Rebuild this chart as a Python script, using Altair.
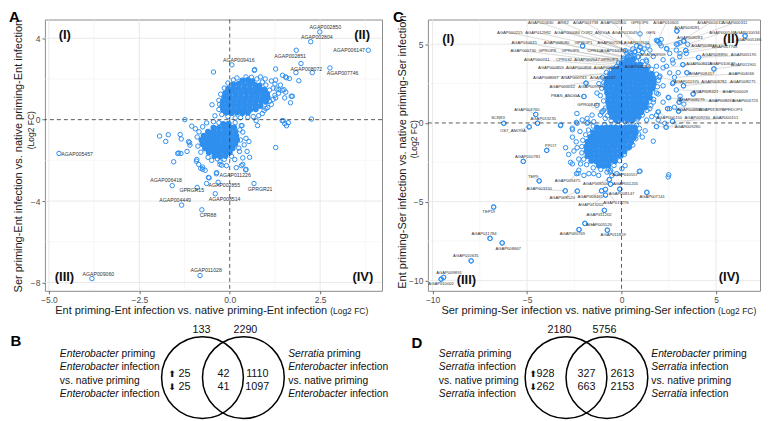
import altair as alt
import pandas as pd

FONT = "Liberation Sans"
BLUE = "#2F8FEF"
AXGRAY = "#4d4d4d"

# ---------------- layout (plot-area sizes) ----------------
AW, AH = 338, 272
CW, CH = 333, 272
GAP = 46
VH = 129

# ---------------- Panel A : Enterobacter infection ----------------
A_XDOM = [-5.11, 4.21]
A_YDOM = [-8.41, 4.92]
A_xticks = [-5, -2.5, 0, 2.5]
A_yticks = [-8, -4, 0, 4]
A_grid_major_x = [-5, -2.5, 2.5]
A_grid_minor_x = [-3.75, -1.25, 1.25, 3.75]
A_grid_major_y = [-8, -4, 4]
A_grid_minor_y = [-6, -2, 2]

A_core_up = [(0.35,1.92),(0.5,1.95),(0.62,1.88),
 (0.1,1.72),(0.25,1.76),(0.4,1.7),(0.55,1.74),(0.7,1.7),(0.82,1.66),
 (-0.04,1.52),(0.1,1.5),(0.25,1.54),(0.4,1.5),(0.55,1.52),(0.7,1.5),(0.85,1.48),(0.96,1.46),
 (-0.12,1.3),(0.02,1.33),(0.17,1.3),(0.32,1.31),(0.47,1.32),(0.62,1.29),(0.77,1.3),(0.92,1.3),(1.03,1.27),
 (-0.15,1.1),(0.0,1.1),(0.15,1.12),(0.3,1.1),(0.45,1.09),(0.6,1.12),(0.75,1.1),(0.9,1.1),(1.05,1.08),
 (-0.18,0.9),(-0.03,0.9),(0.12,0.92),(0.27,0.9),(0.42,0.9),(0.57,0.91),(0.72,0.9),(0.87,0.92),(1.0,0.88),
 (-0.2,0.7),(-0.05,0.7),(0.1,0.72),(0.25,0.7),(0.4,0.71),(0.55,0.7),(0.7,0.72),(0.85,0.68),
 (-0.18,0.5),(-0.03,0.52),(0.12,0.5),(0.27,0.5),(0.42,0.51),(0.57,0.5),(0.72,0.52),
 (-0.1,0.35),(0.05,0.33),(0.2,0.35),(0.35,0.33),(0.5,0.35)]

A_core_low = [(-0.18,-0.22),(-0.03,-0.2),
 (-0.45,-0.4),(-0.3,-0.41),(-0.15,-0.42),(0.0,-0.4),(0.12,-0.39),
 (-0.6,-0.6),(-0.45,-0.6),(-0.3,-0.62),(-0.15,-0.6),(0.0,-0.6),(0.15,-0.61),
 (-0.72,-0.8),(-0.57,-0.8),(-0.42,-0.81),(-0.27,-0.8),(-0.12,-0.8),(0.03,-0.79),(0.18,-0.8),
 (-0.78,-1.0),(-0.63,-1.0),(-0.48,-1.02),(-0.33,-1.0),(-0.18,-1.0),(-0.03,-1.01),(0.12,-1.0),(0.2,-1.0),
 (-0.75,-1.2),(-0.6,-1.2),(-0.45,-1.21),(-0.3,-1.2),(-0.15,-1.2),(0.0,-1.2),(0.15,-1.19),
 (-0.68,-1.4),(-0.53,-1.4),(-0.38,-1.41),(-0.23,-1.4),(-0.08,-1.4),(0.08,-1.4),
 (-0.58,-1.6),(-0.43,-1.6),(-0.28,-1.61),(-0.13,-1.6),(0.0,-1.6),
 (-0.42,-1.78),(-0.27,-1.8),(-0.12,-1.78)]

A_scatter = [(2.49,4.31),(2.24,3.83),(3.83,3.41),(1.84,3.41),(0.06,2.69),(1.97,2.76),(1.83,2.31),
 (2.28,2.31),(2.77,2.54),(-4.72,-1.66),(-0.37,-2.66),(-1.59,-3.24),(-0.64,-3.14),(-0.90,-3.33),
 (0.67,-3.14),(-0.40,-3.64),(-1.33,-4.20),(-0.77,-4.43),(-3.81,-7.81),(-0.82,-7.66),
 (-0.45,2.34),(0.69,2.46),(1.27,2.49),(1.46,2.18),(1.57,2.06),(1.65,2.02),(1.91,1.91),(1.70,1.15),
 (1.68,0.83),(2.26,0.03),(1.48,-0.05),(1.62,-0.15),(1.57,-0.30),(1.27,-1.37),(1.27,1.07),(1.27,1.95),
 (1.36,1.47),(1.54,2.1),(1.73,1.15),(1.52,1.07),(1.5,1.47),(0.68,2.42),
 (-1.24,0.0),(-0.49,0.73),(-0.41,0.19),(0.73,-0.05),(0.77,-0.29),(1.45,-0.05),(1.52,-0.2),
 (-1.94,-0.81),(-1.70,-0.74),(-1.77,-1.07),(-1.37,-0.73),(-1.34,-0.95),(-1.44,-1.66),(-1.35,-1.66),
 (-1.55,-2.07),(-1.11,-1.13),(-0.92,-2.04),(-0.80,-2.39),(-0.75,-2.44),(-0.57,-2.86),(-0.27,-2.07),
 (-0.09,-2.26),(0.32,-2.26),(0.44,-2.47),(0.55,-1.85),(0.48,-1.56),(0.53,-1.07),(0.34,-0.29),
 (-0.34,-1.93),(-0.22,-2.24),(-1.05,-0.32),(-0.95,-0.45),(-0.75,-0.35),(-0.64,-0.16),(-0.45,-0.1),
 (-1.14,-1.08),(-1.1,-1.25),(-1.18,-1.56),(-1.41,-1.64),(-0.91,-1.96),(-0.86,-2.2),(-0.75,-2.33),
 (-0.68,-2.49),(-0.27,-2.2),(0.14,-1.96),(0.36,-1.88),(0.45,-2.44),(0.36,-2.2),(0.27,-1.56),
 (0.4,-1.24),(0.45,-0.92),(0.36,-0.61),(0.32,-0.29),(0.18,-2.36),(-0.36,-2.6),(-0.59,-2.84),
 (-0.32,-3.08),(-0.85,-0.6),(-0.9,-0.85),(-0.88,-1.3),(-0.8,-1.6),(-0.6,-1.85),(-0.5,-2.0),
 (-0.15,-1.95),(0.05,-1.8),(0.25,-1.4),(0.3,-1.0),(0.28,-0.5),(0.15,-0.15),(-0.3,-0.15),
 (1.15,1.9),(1.25,1.75),(1.2,1.55),(1.1,1.45),(1.3,1.5),(1.35,1.3),(1.25,1.2),(1.15,0.75),
 (1.05,0.6),(0.95,0.45),(0.9,0.3),(0.8,0.2),(0.65,0.15),(0.5,0.12),(0.3,0.1),(0.15,0.08),
 (-0.05,0.15),(-0.22,0.25),(-0.3,0.5),(-0.28,0.75),(-0.3,0.95),(-0.25,1.25),(-0.15,1.55),
 (-0.05,1.8),(0.1,1.95),(0.2,2.05),(0.45,2.1),(0.6,2.08),(0.75,2.0),(0.9,1.85),(1.0,1.7),
 (0.98,2.0),(0.85,2.1),(1.4,1.7),(1.45,1.45),(1.55,1.35),(1.2,1.0),(1.1,0.9),(1.0,0.55)]

A_labels = [("AGAP002850",2.64,4.56),("AGAP002804",2.41,4.05),("AGAP006147",3.30,3.43),
 ("AGAP002851",1.67,3.14),("AGAP009416",0.25,2.93),("AGAP008072",2.12,2.50),
 ("AGAP007746",3.12,2.30),("AGAP005457",-4.22,-1.69),("AGAP011226",0.15,-2.73),
 ("AGAP006418",-1.76,-2.95),("AGAP002855",-0.15,-3.22),("GPRGR15",-1.05,-3.44),
 ("GPRGR21",0.84,-3.41),("AGAP008514",-0.14,-3.91),("AGAP004449",-1.51,-3.96),
 ("CPR88",-0.60,-4.69),("AGAP009060",-3.63,-7.57),("AGAP011028",-0.65,-7.40)]

A_quadrants = [("(I)",-4.56,4.14),("(II)",3.66,4.14),("(III)",-4.57,-7.74),("(IV)",3.68,-7.74)]

# ---------------- Panel C : Serratia infection ----------------
C_XDOM = [-10.25, 7.33]
C_YDOM = [-10.66, 6.57]
C_xticks = [-10, -5, 0, 5]
C_yticks = [-10, -5, 0, 5]
C_grid_major_x = [-10, -5, 5]
C_grid_minor_x = [-7.5, -2.5, 2.5]
C_grid_major_y = [-10, -5, 5]
C_grid_minor_y = [-7.5, -2.5, 2.5]

C_core_up = [(0.3,4.0),(0.6,4.02),
 (0.0,3.7),(0.25,3.72),(0.5,3.7),(0.75,3.68),(1.0,3.7),
 (-0.4,3.4),(-0.15,3.42),(0.1,3.4),(0.35,3.38),(0.6,3.4),(0.85,3.42),(1.1,3.4),(1.3,3.38),
 (-0.6,3.1),(-0.35,3.12),(-0.1,3.1),(0.15,3.08),(0.4,3.1),(0.65,3.12),(0.9,3.1),(1.15,3.08),(1.4,3.1),(1.6,3.1),
 (-0.75,2.8),(-0.5,2.82),(-0.25,2.8),(0.0,2.78),(0.25,2.8),(0.5,2.82),(0.75,2.8),(1.0,2.78),(1.25,2.8),(1.5,2.82),(1.7,2.8),
 (-0.8,2.5),(-0.55,2.52),(-0.3,2.5),(-0.05,2.48),(0.2,2.5),(0.45,2.52),(0.7,2.5),(0.95,2.48),(1.2,2.5),(1.45,2.52),(1.7,2.5),
 (-0.8,2.2),(-0.55,2.22),(-0.3,2.2),(-0.05,2.18),(0.2,2.2),(0.45,2.22),(0.7,2.2),(0.95,2.18),(1.2,2.2),(1.45,2.22),(1.65,2.2),
 (-0.75,1.9),(-0.5,1.92),(-0.25,1.9),(0.0,1.88),(0.25,1.9),(0.5,1.92),(0.75,1.9),(1.0,1.88),(1.25,1.9),(1.5,1.9),
 (-0.7,1.6),(-0.45,1.62),(-0.2,1.6),(0.05,1.58),(0.3,1.6),(0.55,1.62),(0.8,1.6),(1.05,1.58),(1.3,1.6),(1.5,1.6),
 (-0.7,1.3),(-0.45,1.32),(-0.2,1.3),(0.05,1.28),(0.3,1.3),(0.55,1.32),(0.8,1.3),(1.05,1.28),(1.3,1.3),
 (-0.65,1.0),(-0.4,1.02),(-0.15,1.0),(0.1,0.98),(0.35,1.0),(0.6,1.02),(0.85,1.0),(1.1,0.98),(1.25,1.0),
 (-0.6,0.7),(-0.35,0.72),(-0.1,0.7),(0.15,0.68),(0.4,0.7),(0.65,0.72),(0.9,0.7),(1.05,0.7),
 (-0.5,0.4),(-0.25,0.42),(0.0,0.4),(0.25,0.38),(0.5,0.4),(0.75,0.42),(0.9,0.4),
 (-0.3,0.2),(0.0,0.22),(0.3,0.2),(0.6,0.22)]

C_core_low = [(-1.3,-0.3),(-1.05,-0.32),(-0.8,-0.3),(-0.55,-0.28),(-0.3,-0.3),(-0.05,-0.32),(0.2,-0.3),(0.45,-0.28),(0.7,-0.3),
 (-1.5,-0.6),(-1.25,-0.62),(-1.0,-0.6),(-0.75,-0.58),(-0.5,-0.6),(-0.25,-0.62),(0.0,-0.6),(0.25,-0.58),(0.5,-0.6),(0.75,-0.62),
 (-1.65,-0.9),(-1.4,-0.92),(-1.15,-0.9),(-0.9,-0.88),(-0.65,-0.9),(-0.4,-0.92),(-0.15,-0.9),(0.1,-0.88),(0.35,-0.9),(0.65,-0.92),
 (-1.8,-1.2),(-1.55,-1.22),(-1.3,-1.2),(-1.05,-1.18),(-0.8,-1.2),(-0.55,-1.22),(-0.3,-1.2),(-0.05,-1.18),(0.2,-1.2),(0.5,-1.22),
 (-1.85,-1.5),(-1.6,-1.52),(-1.35,-1.5),(-1.1,-1.48),(-0.85,-1.5),(-0.6,-1.52),(-0.35,-1.5),(-0.1,-1.48),(0.15,-1.5),(0.4,-1.52),
 (-1.85,-1.8),(-1.6,-1.82),(-1.35,-1.8),(-1.1,-1.78),(-0.85,-1.8),(-0.6,-1.82),(-0.35,-1.8),(-0.1,-1.78),(0.15,-1.8),
 (-1.8,-2.1),(-1.55,-2.12),(-1.3,-2.1),(-1.05,-2.08),(-0.8,-2.1),(-0.55,-2.12),(-0.3,-2.1),(-0.05,-2.08),
 (-1.6,-2.4),(-1.35,-2.42),(-1.1,-2.4),(-0.85,-2.38),(-0.6,-2.4),(-0.35,-2.42),
 (-1.2,-2.7),(-0.95,-2.72),(-0.7,-2.7)]

C_scatter = [(6.54,5.53),(2.93,5.84),(-2.06,4.89),(-1.88,2.53),(-1.99,1.68),(-4.54,0.54),(-6.23,-0.02),
 (-4.89,-0.25),(-3.23,-0.17),(-2.39,0.04),(-2.6,-0.43),(-1.77,0.04),(-2.36,0.6),(-3.96,-1.74),(-4.45,-0.02),
 (1.95,5.2),(2.1,5.3),(2.98,5.01),(3.1,5.1),(3.28,5.2),(3.4,4.6),(4.08,4.16),(4.89,3.43),(3.46,3.19),
 (3.0,3.2),(3.28,2.36),(3.79,1.84),(3.1,1.7),(3.05,1.32),(3.3,1.2),(2.44,0.91),(3.02,0.75),(2.7,0.1),
 (2.36,-0.27),(1.94,0.7),(1.6,0.4),
 (-5.2,-2.44),(-4.36,-3.68),(-2.98,-4.31),(-2.34,-4.33),(-6.77,-5.34),(-6.96,-7.33),(-6.32,-7.62),
 (-7.96,-8.76),(-9.42,-9.81),(-9.55,-9.92),(-1.94,-6.38),(-2.25,-6.77),(-0.75,-6.81),(-0.91,-5.55),
 (-0.85,-4.58),(-0.85,-4.22),(-1.06,-4.31),(-0.09,-4.20),(1.34,-4.41),(0.94,-3.08),(2.50,-3.29),
 (-0.58,-3.89),(-0.65,-3.6),
 (-3.22,-0.12),(-2.61,-0.33),(-2.35,-0.02),(-2.08,0.19),(-2.2,-0.54),(-1.82,-0.02),(-1.56,0.5),
 (-1.12,0.5),(-0.94,0.81),(-0.86,0.29),(-2.96,-1.57),(-2.52,-1.78),(-2.35,-1.57),(-2.7,-2.5),
 (-2.6,-2.6),(-2.26,-2.29),(-2.17,-2.6),(-2.38,-3.22),(-2.26,-3.0),(-1.99,-3.33),(-1.73,-3.22),
 (-1.47,-3.22),(-1.21,-3.33),(-0.77,-3.12),(-0.6,-3.12),(-0.51,-3.33),(-0.25,-3.22),(0.02,-2.91),
 (0.19,-2.71),(0.98,-3.06),(1.68,-1.16),(1.85,-0.23),(1.94,0.19),(2.29,-0.02),(2.55,0.91),(2.2,1.32),
 (2.47,-3.43),
 (-0.94,2.56),(-0.77,1.94),(-1.12,1.74),(-1.3,1.12),(-1.03,0.7),(-1.82,0.29),(-1.47,0.08),(-0.25,3.29),
 (-0.16,3.8),(0.1,4.11),(0.28,4.42),(0.71,4.53),(0.98,4.84),(1.5,4.63),(1.85,5.25),(2.03,5.04),
 (2.38,4.73),(2.55,4.42),(2.2,4.01),(1.68,4.22),(1.33,3.91),(1.85,3.6),(2.38,3.6),(2.73,3.8),
 (3.08,4.22),(2.9,4.63),(3.43,4.42),(3.25,3.7),(2.55,3.18),(2.03,2.98),(1.68,2.56),(2.2,2.36),
 (2.73,2.56),(1.94,1.84),(2.47,1.63),(1.68,1.32),(1.5,0.91),(1.85,0.5),(1.33,0.19),(0.98,5.66),
 (0.45,3.6),(-0.07,2.67),
 (-1.0,2.9),(-1.05,2.2),(-0.95,1.4),(-0.85,0.95),(-0.75,0.45),(-0.55,0.15),(-0.2,0.1),(0.2,0.08),
 (0.55,0.15),(0.85,0.25),(1.1,0.5),(1.35,0.8),(1.55,1.1),(1.7,1.5),(1.85,1.9),(1.9,2.3),(1.95,2.7),
 (1.85,3.1),(1.6,3.4),(1.4,3.6),(1.1,3.9),(0.85,4.2),(0.5,4.25),(0.1,3.95),(-0.25,3.6),(-0.55,3.4),
 (-0.8,3.2),(-1.2,2.5),(-1.3,1.9),
 (-1.5,-0.2),(-1.75,-0.45),(-1.9,-0.75),(-2.05,-1.1),(-2.1,-1.5),(-2.1,-1.9),(-2.0,-2.3),(-1.85,-2.65),
 (-1.5,-2.85),(-1.1,-2.95),(-0.7,-2.95),(-0.4,-2.7),(-0.1,-2.4),(0.15,-2.0),(0.35,-1.6),(0.6,-1.4),
 (0.75,-1.0),(0.9,-0.7),(0.95,-0.35),(0.8,-0.15),(0.45,-0.12),(-0.2,-0.12),(-0.9,-0.1),(1.1,-0.9),
 (1.25,-0.5),(-2.4,-1.2),(-2.6,-0.9),(-2.8,-2.0)]

# (label, label x, label y, point x, point y)
C_labels = [
 ("AGAP010630",-4.28,6.36,0.2,4.6),("ARR2",-3.09,6.36,0.4,4.5),("AGAP003738",-1.90,6.36,0.6,4.7),
 ("AGAP002550",-0.44,6.36,0.8,4.9),("GPROP6",0.96,6.36,1.0,4.8),("AGAP010601",2.36,6.36,1.9,5.2),
 ("AGAP000132",4.68,6.36,2.9,5.0),("AGAP000311",5.99,6.36,3.3,5.2),
 ("AGAP000215",-5.92,5.73,0.3,4.2),("AGAP012982",-4.42,5.73,0.5,4.4),("AGAP000084",-2.88,5.73,0.7,4.5),
 ("COR2_ANOGA",-1.38,5.73,0.9,4.6),("AGAP013049",0.17,5.73,1.2,4.7),("GEN",1.54,5.73,1.4,4.9),
 ("AGAP008281",3.46,6.02,2.93,5.84),("AGAP000146",5.32,5.73,3.5,5.0),("AGAP010034",6.63,5.73,6.54,5.53),
 ("AGAP010631",-5.15,5.11,0.1,4.0),("AGAP008080",-3.44,5.11,0.3,4.1),("GPROP1",-2.01,5.11,-2.06,4.89),
 ("AGAP007195",-0.61,5.11,0.6,4.3),("AGAP007640",0.79,5.11,1.1,4.5),("AGAP008283",3.61,5.42,2.1,4.9),
 ("AGAP005186",6.72,5.30,3.4,4.6),
 ("AGAP000730",-5.20,4.58,0.0,3.8),("GPROP8",-3.93,4.58,0.2,3.9),("GPROP9",-2.71,4.58,0.4,4.0),
 ("CPR10",-1.45,4.58,0.6,4.1),("AGAP010194",-0.44,4.58,0.9,4.2),("AGAP008874",4.36,4.89,2.4,4.7),
 ("AGAP007748",5.46,4.85,3.1,4.4),
 ("AGAP000741",-4.49,4.02,0.1,3.6),("CPR132",-3.05,4.02,0.3,3.7),("AGAP002547",-1.83,4.02,0.5,3.8),
 ("GPROP3",-0.65,4.02,0.8,3.9),("AGAP008909",1.66,4.29,1.3,4.0),("AGAP008890",4.94,4.29,2.7,4.0),
 ("AGAP005195",6.46,4.29,4.08,4.16),
 ("AGAP000859",-3.75,3.46,0.2,3.4),("AGAP000858",-2.27,3.46,0.4,3.5),("AGAP000248",-0.79,3.46,0.7,3.6),
 ("AGAP008266",0.85,3.55,1.0,3.3),("AGAP008419",4.10,3.75,2.2,3.5),("AGAP010647",5.32,3.75,3.25,3.7),
 ("AGAP011901",6.46,3.66,4.89,3.43),
 ("AGAP008067",-4.01,2.88,0.0,3.2),("AGAP000743",-2.53,2.88,0.2,3.3),("AGAP000137",-0.99,2.88,0.5,3.4),
 ("AGAP008417",4.24,3.13,3.46,3.19),("AGAP004066",6.34,3.13,2.8,2.9),
 ("AGAP000032",-3.14,2.30,-0.2,3.0),("AGAP009999",-1.61,2.30,-1.88,2.53),("AGAP011970",3.44,2.57,2.0,2.9),
 ("AGAP008782",4.89,2.57,3.28,2.36),("AGAP008275",6.42,2.57,2.7,2.5),
 ("PBAN_ANOGA",-2.97,1.70,-1.99,1.68),("AGAP008421",4.45,1.99,3.79,1.84),("AGAP000009",6.02,1.99,2.9,2.1),
 ("AGAP008279",3.72,1.43,2.5,1.6),("AGAP008215",5.29,1.41,3.05,1.32),("AGAP004723",6.54,1.41,3.1,1.5),
 ("GPR008417",-1.74,1.12,-1.03,0.70),("AGAP008891",3.61,0.85,2.44,0.91),("AGAP013070",4.76,0.85,3.02,0.75),
 ("GPRDOP3",5.85,0.85,2.8,1.0),("AGAP000150",2.53,0.29,1.94,0.70),("AGAP009260",4.01,0.29,2.36,-0.27),
 ("AGAP000151",5.50,0.29,2.7,0.10),("AGAP009280",3.49,-0.27,1.85,-0.23),
 ("AGAP004760",-5.01,0.83,-4.54,0.54),("AGAP013235",-4.14,0.23,-4.45,-0.02),("SCR83",-6.54,0.33,-6.23,-0.02),
 ("OS7_ANOGA",-5.75,-0.54,-4.89,-0.25),("PPO7",-3.75,-1.47,-3.96,-1.74),("AGAP010781",-4.97,-2.19,-5.20,-2.44),
 ("TEP9",-4.68,-3.44,-4.36,-3.68),("AGAP009475",-2.86,-3.71,-2.30,-3.20),("AGAP003150",-4.36,-4.22,-2.98,-4.31),
 ("AGAP008506",-1.36,-3.85,-0.65,-3.60),("AGAP010557",0.19,-3.29,-0.58,-3.00),("AGAP011205",0.21,-3.87,-0.58,-3.89),
 ("AGAP008520",-3.14,-4.78,-2.34,-4.33),("AGAP008465",-1.66,-4.68,-1.06,-4.31),("AGAP008147",0.00,-4.49,-0.09,-4.20),
 ("AGAP007141",1.62,-4.70,1.34,-4.41),("AGAP013202",-1.62,-5.24,-0.85,-4.58),("AGAP011276",-0.30,-5.07,-0.85,-4.22),
 ("TEP19",-7.03,-5.65,-6.77,-5.34),("AGAP011202",-1.19,-5.84,-0.91,-5.55),("AGAP005526",-1.19,-6.50,-1.94,-6.38),
 ("AGAP000769",-2.60,-7.06,-2.25,-6.77),("AGAP011859",-0.44,-7.14,-0.75,-6.81),("AGAP011784",-7.28,-7.06,-6.96,-7.33),
 ("AGAP008667",-6.00,-7.99,-6.32,-7.62),("AGAP010635",-8.24,-8.47,-7.96,-8.76),("AGAP009891",-9.13,-9.55,-9.42,-9.81),
 ("AGAP010002",-9.55,-10.23,-9.55,-9.92)]

C_quadrants = [("(I)",-9.17,5.35),("(II)",5.79,5.35),("(III)",-8.21,-10.0),("(IV)",5.70,-9.80)]

# ---------------- Venn panels B and D (counts) ----------------
B_totals = ["133", "2290"]
B_up = ["25", "42", "1110"]
B_down = ["25", "41", "1097"]
D_totals = ["2180", "5756"]
D_up = ["928", "327", "2613"]
D_down = ["262", "663", "2153"]
B_left = [("Enterobacter", " priming"), ("Enterobacter", " infection"), ("", "vs. native priming"), ("Enterobacter", " infection")]
B_right = [("Serratia", " priming"), ("Enterobacter", " infection"), ("", "vs. native priming"), ("Enterobacter", " infection")]
D_left = [("Serratia", " priming"), ("Serratia", " infection"), ("", "vs. native priming"), ("Serratia", " infection")]
D_right = [("Enterobacter", " priming"), ("Serratia", " infection"), ("", "vs. native priming"), ("Serratia", " infection")]


def single_text(t, px, py, size, **kw):
    return alt.Chart(pd.DataFrame({"t": [t]})).mark_text(fontSize=size, font=FONT, **kw).encode(
        x=alt.value(px), y=alt.value(py), text="t:N")


def scatter_panel(W, H, xdom, ydom, xticks, yticks, xfmt, gx_maj, gx_min, gy_maj, gy_min,
                  core, scatter, labels, lab_size, quads, leaders, texts):
    sx = alt.Scale(domain=xdom, nice=False, zero=False)
    sy = alt.Scale(domain=ydom, nice=False, zero=False)
    common = dict(grid=False, domain=False, tickSize=3, tickColor=AXGRAY, tickWidth=0.8,
                  labelColor=AXGRAY, labelFontSize=8.5, labelFont=FONT, labelPadding=2, title=None)
    ax = alt.Axis(values=xticks, format=xfmt, **common)
    ay = alt.Axis(values=yticks, format="d", **common)

    def X(f):
        return alt.X(f, type="quantitative", scale=sx, axis=ax)

    def Y(f):
        return alt.Y(f, type="quantitative", scale=sy, axis=ay)

    L = []
    L.append(alt.Chart(pd.DataFrame({"v": gx_min})).mark_rule(color="#f2f2f2", strokeWidth=0.6).encode(x=X("v")))
    L.append(alt.Chart(pd.DataFrame({"v": gy_min})).mark_rule(color="#f2f2f2", strokeWidth=0.6).encode(y=Y("v")))
    L.append(alt.Chart(pd.DataFrame({"v": gx_maj})).mark_rule(color="#e6e6e6", strokeWidth=0.9).encode(x=X("v")))
    L.append(alt.Chart(pd.DataFrame({"v": gy_maj})).mark_rule(color="#e6e6e6", strokeWidth=0.9).encode(y=Y("v")))
    if leaders is not None:
        L.append(alt.Chart(leaders).mark_rule(color="#c2c2c2", strokeWidth=0.6).encode(
            x=X("lx"), y=Y("ly"), x2="px:Q", y2="py:Q"))
    L.append(alt.Chart(pd.DataFrame(scatter, columns=["x", "y"])).mark_point(
        shape="circle", filled=False, size=20, strokeWidth=1, color=BLUE, opacity=1).encode(x=X("x"), y=Y("y")))
    L.append(alt.Chart(pd.DataFrame(core, columns=["x", "y"])).mark_circle(
        size=38, color=BLUE, opacity=1).encode(x=X("x"), y=Y("y")))
    L.append(alt.Chart(pd.DataFrame({"v": [0]})).mark_rule(color="#333333", strokeWidth=0.8, strokeDash=[4, 3]).encode(x=X("v")))
    L.append(alt.Chart(pd.DataFrame({"v": [0]})).mark_rule(color="#333333", strokeWidth=0.8, strokeDash=[4, 3]).encode(y=Y("v")))
    L.append(alt.Chart(labels).mark_text(fontSize=lab_size, font=FONT, color="#333333").encode(
        x=X("x"), y=Y("y"), text="t:N"))
    L.append(alt.Chart(pd.DataFrame(quads, columns=["t", "x", "y"])).mark_text(
        fontSize=13, font=FONT, fontWeight="bold", color="#111111").encode(x=X("x"), y=Y("y"), text="t:N"))
    L.extend(texts)
    return alt.layer(*L).properties(width=W, height=H)


# ---- Panel A ----
A_lab_df = pd.DataFrame(A_labels, columns=["t", "x", "y"])
A_texts = [
    single_text("A", -36, -10, 15, fontWeight="bold", align="left", baseline="top", color="black"),
    single_text("Ser priming-Ent infection vs. native priming-Ent infection", -25.5, 137, 11, angle=270, color="#1a1a1a"),
    single_text("(Log2 FC)", -14, 111, 8.5, angle=270, color="#1a1a1a"),
    single_text("Ent priming-Ent infection vs. native priming-Ent infection", 283, AH + 23, 11,
                align="right", baseline="alphabetic", color="#1a1a1a"),
    single_text("(Log2 FC)", 286, AH + 23, 8.5, align="left", baseline="alphabetic", color="#1a1a1a"),
]
chartA = scatter_panel(AW, AH, A_XDOM, A_YDOM, A_xticks, A_yticks, ".1f",
                       A_grid_major_x, A_grid_minor_x, A_grid_major_y, A_grid_minor_y,
                       A_core_up + A_core_low, A_scatter, A_lab_df, 5.2, A_quadrants, None, A_texts)

# ---- Panel C ----
C_lab_df = pd.DataFrame([(t, lx, ly) for t, lx, ly, _, _ in C_labels], columns=["t", "x", "y"])
C_lead_df = pd.DataFrame([(lx, ly, px, py) for _, lx, ly, px, py in C_labels], columns=["lx", "ly", "px", "py"])
C_pts = C_scatter + [(px, py) for _, _, _, px, py in C_labels]
C_texts = [
    single_text("C", -35, -10, 15, fontWeight="bold", align="left", baseline="top", color="black"),
    single_text("Ent priming-Ser infection vs. native priming-Ser infection", -25, 133, 11, angle=270, color="#1a1a1a"),
    single_text("(Log2 FC)", -14, 120, 8.5, angle=270, color="#1a1a1a"),
    single_text("Ser priming-Ser infection vs. native priming-Ser infection", 288, CH + 23, 11,
                align="right", baseline="alphabetic", color="#1a1a1a"),
    single_text("(Log2 FC)", 291, CH + 23, 8.5, align="left", baseline="alphabetic", color="#1a1a1a"),
]
chartC = scatter_panel(CW, CH, C_XDOM, C_YDOM, C_xticks, C_yticks, "d",
                       C_grid_major_x, C_grid_minor_x, C_grid_major_y, C_grid_minor_y,
                       C_core_up + C_core_low, C_pts, C_lab_df, 4.2, C_quadrants, C_lead_df, C_texts)

# ---- Venn panels (positions in page-layout units) ----
VY0, VY1 = 289, 289 + VH
VFS = 10.3
ITAL_W = {"Enterobacter": 5.725, "Serratia": 3.501}
LINE_Y = [352, 365.5, 379, 392.5]


def venn_panel(x0, x1, letter, circ_x, totals_xy, totals, cols_x, arrow_x, up, dn, left_x, left, right_x, right):
    sx = alt.Scale(domain=[x0, x1], nice=False, zero=False)
    sy = alt.Scale(domain=[VY0, VY1], nice=False, zero=False, reverse=True)

    def vx(f):
        return alt.X(f, type="quantitative", scale=sx, axis=None)

    def vy(f):
        return alt.Y(f, type="quantitative", scale=sy, axis=None)

    circles = pd.DataFrame({"cx": circ_x, "cy": [376, 376]})
    rows = [(totals[0], totals_xy[0], 328), (totals[1], totals_xy[1], 328)]
    for xx, u, d in zip(cols_x, up, dn):
        rows.append((u, xx, 372))
        rows.append((d, xx, 385))
    num_df = pd.DataFrame(rows, columns=["t", "x", "y"])
    arrow_df = pd.DataFrame([("⬆", arrow_x, 372), ("⬇", arrow_x, 385)], columns=["t", "x", "y"])
    letter_df = pd.DataFrame([letter], columns=["t", "x", "y"])
    ital_rows, norm_rows = [], []
    for lx0, lines in [(left_x, left), (right_x, right)]:
        for yy, (it, rest) in zip(LINE_Y, lines):
            if it:
                ital_rows.append((it, lx0, yy))
                norm_rows.append((rest.strip(), lx0 + (ITAL_W[it] + 0.278) * VFS, yy))
            else:
                norm_rows.append((rest, lx0, yy))
    ital_df = pd.DataFrame(ital_rows, columns=["t", "x", "y"])
    norm_df = pd.DataFrame(norm_rows, columns=["t", "x", "y"])
    return alt.layer(
        alt.Chart(circles).mark_point(shape="circle", filled=False, size=82 * 82, strokeWidth=1.5,
                                      color="black", opacity=1).encode(x=vx("cx"), y=vy("cy")),
        alt.Chart(num_df).mark_text(fontSize=10.8, font=FONT, color="#111111").encode(x=vx("x"), y=vy("y"), text="t:N"),
        alt.Chart(arrow_df).mark_text(fontSize=9, font="DejaVu Sans", color="#111111").encode(x=vx("x"), y=vy("y"), text="t:N"),
        alt.Chart(letter_df).mark_text(fontSize=15, font=FONT, fontWeight="bold", color="black").encode(x=vx("x"), y=vy("y"), text="t:N"),
        alt.Chart(ital_df).mark_text(fontSize=VFS, font=FONT, fontStyle="italic", align="left", color="#111111").encode(x=vx("x"), y=vy("y"), text="t:N"),
        alt.Chart(norm_df).mark_text(fontSize=VFS, font=FONT, align="left", color="#111111").encode(x=vx("x"), y=vy("y"), text="t:N"),
    ).properties(width=x1 - x0, height=VH, view=alt.ViewBackground(strokeOpacity=0))


chartB = venn_panel(43, 43 + AW, ("B", 14, 339), [201, 242], (200, 244), B_totals,
                    (183, 222, 256), 170.5, B_up, B_down, 58, B_left, 287, B_right)
chartD = venn_panel(43 + AW + GAP, 43 + AW + GAP + CW, ("D", 416, 341), [565.5, 606.5], (559, 604), D_totals,
                    (545, 586, 622), 532.5, D_up, D_down, 438, D_left, 651, D_right)

chart = alt.concat(chartA, chartC, chartB, chartD, columns=2, bounds="flush",
                   spacing={"row": 0, "column": GAP}).properties(padding=0).configure_view(
    stroke="#8c8c8c", strokeWidth=1)

chart.save("out.html", embed_options={"renderer": "svg", "actions": False})
